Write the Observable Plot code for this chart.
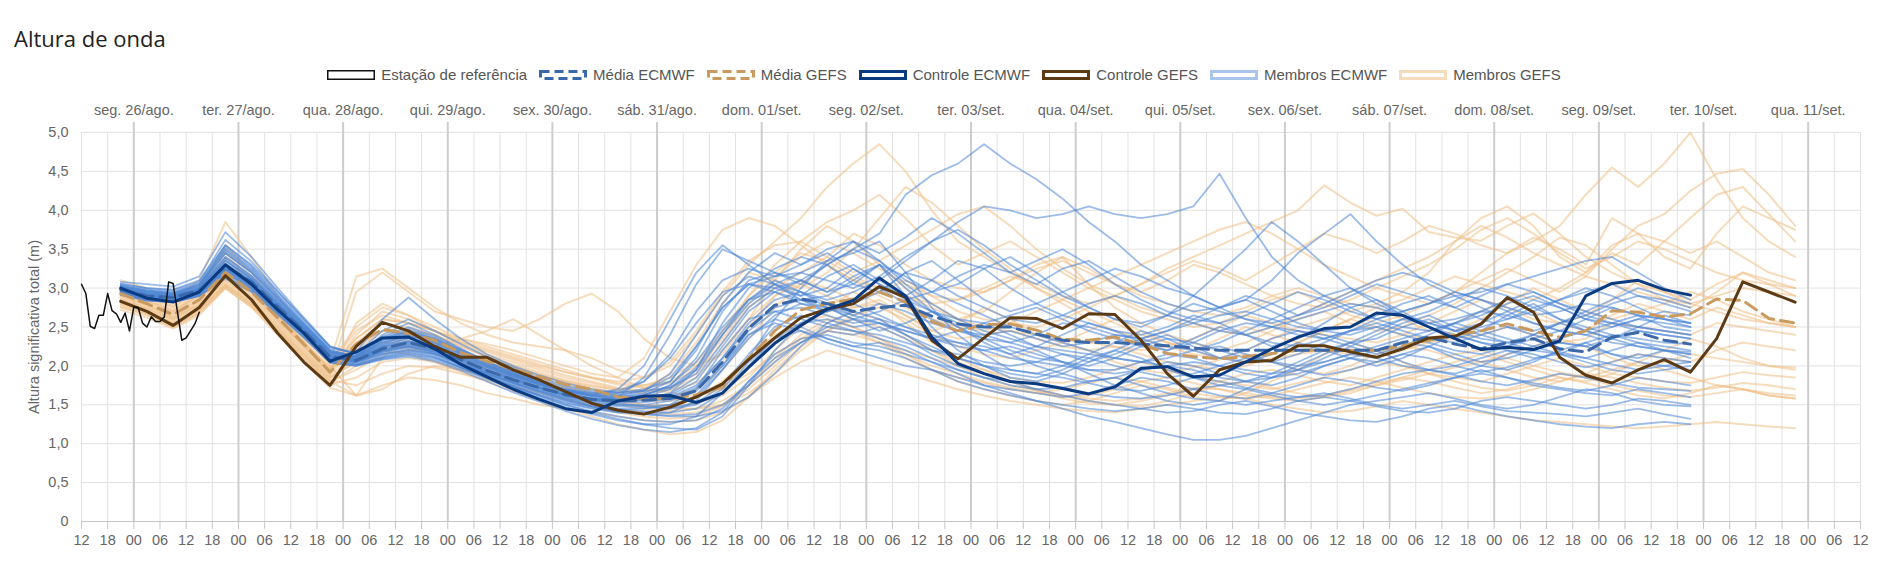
<!DOCTYPE html>
<html><head><meta charset="utf-8">
<script src="https://cdn.jsdelivr.net/npm/d3@7"></script>
<script src="https://cdn.jsdelivr.net/npm/@observablehq/plot@0.6"></script>
<style>
body{margin:0;background:#fff;font-family:"Liberation Sans",Arial,sans-serif;}
#wrap{position:relative;width:1888px;height:573px;overflow:hidden;background:#fff}
#title{position:absolute;left:14px;top:23px;font-family:"Open Sans",sans-serif;font-size:22px;color:#222;line-height:30px}
#legend{position:absolute;left:0;width:1888px;top:65px;height:20px;display:flex;justify-content:center;align-items:center;font-size:15px;color:#555;line-height:20px}
.item{display:flex;align-items:center;margin:0 6px}
.item svg{margin-right:6px}
#chart{position:absolute;left:0;top:90px}
</style></head>
<body>
<div id="wrap">
  <div id="title">Altura de onda</div>
  <div id="legend"></div>
  <div id="chart"></div>
</div>
<script>
// ---------- Dados ----------
const rotulosDias = ["seg. 26/ago.","ter. 27/ago.","qua. 28/ago.","qui. 29/ago.","sex. 30/ago.","sáb. 31/ago.","dom. 01/set.","seg. 02/set.","ter. 03/set.","qua. 04/set.","qui. 05/set.","sex. 06/set.","sáb. 07/set.","dom. 08/set.","seg. 09/set.","ter. 10/set.","qua. 11/set."];

// Estação de referência: horas desde 25/ago 12h
const horasEstacao = [0,1,2,3,4,5,6,7,8,9,10,11,12,13,14,15,16,17,18,19,20,21,23,24,26,27];
const estacao = [3.05,2.93,2.51,2.48,2.65,2.65,2.93,2.71,2.67,2.56,2.68,2.45,2.76,2.75,2.55,2.50,2.63,2.57,2.57,2.63,3.08,3.06,2.33,2.36,2.54,2.69];

// Modelos: passos de 6 h a partir de 25/ago 21h
const mediaECMWF = [2.98,2.90,2.88,2.97,3.28,3.08,2.76,2.45,2.12,2.07,2.22,2.30,2.22,2.08,1.94,1.82,1.72,1.63,1.57,1.55,1.56,1.58,1.68,2.05,2.48,2.78,2.86,2.80,2.70,2.75,2.78,2.64,2.54,2.50,2.50,2.41,2.33,2.30,2.30,2.28,2.26,2.23,2.20,2.20,2.20,2.20,2.20,2.20,2.20,2.30,2.37,2.28,2.22,2.30,2.35,2.22,2.18,2.37,2.43,2.33,2.28];
const mediaGEFS = [2.93,2.80,2.66,2.85,3.20,2.95,2.62,2.28,1.92,2.28,2.47,2.42,2.33,2.17,2.06,1.96,1.86,1.76,1.70,1.60,1.58,1.58,1.63,1.73,2.10,2.45,2.72,2.80,2.86,2.95,2.82,2.57,2.45,2.53,2.54,2.46,2.34,2.33,2.37,2.28,2.16,2.12,2.09,2.12,2.16,2.20,2.20,2.20,2.20,2.26,2.33,2.40,2.45,2.54,2.45,2.37,2.45,2.71,2.69,2.63,2.67,2.86,2.84,2.61,2.55];
const controleECMWF = [3.00,2.87,2.82,2.95,3.30,3.05,2.72,2.42,2.06,2.18,2.36,2.37,2.22,2.02,1.86,1.70,1.57,1.45,1.40,1.55,1.61,1.62,1.53,1.65,1.98,2.29,2.52,2.73,2.84,3.13,2.90,2.37,2.03,1.90,1.80,1.77,1.71,1.64,1.73,1.97,1.99,1.86,1.88,2.05,2.22,2.37,2.48,2.50,2.68,2.65,2.50,2.35,2.21,2.24,2.21,2.32,2.90,3.06,3.10,2.98,2.91];
const controleGEFS = [2.83,2.70,2.52,2.75,3.16,2.85,2.42,2.05,1.75,2.25,2.56,2.45,2.25,2.11,2.11,1.95,1.82,1.67,1.52,1.43,1.38,1.47,1.60,1.77,2.08,2.36,2.62,2.73,2.80,3.02,2.88,2.33,2.09,2.36,2.62,2.61,2.48,2.67,2.66,2.33,1.90,1.61,1.95,2.05,2.07,2.26,2.26,2.18,2.11,2.22,2.36,2.38,2.54,2.88,2.69,2.11,1.88,1.78,1.95,2.08,1.92,2.35,3.08,2.95,2.82];

const membrosECMWF = [
[3.05,3.00,2.98,3.10,3.55,3.30,2.95,2.60,2.25,2.15,2.35,2.45,2.35,2.20,2.05,1.92,1.80,1.70,1.62,1.58,1.62,1.75,2.10,2.70,3.10,3.20,3.05,3.30,3.50,3.70,4.20,4.45,4.60,4.85,4.60,4.40,4.15,3.85,3.60,3.30,3.10,2.90,2.75,2.60,2.50,2.45,2.40,2.30,2.35,2.50,2.60,2.45,2.35,2.30,2.20,2.15,2.10,2.20,2.30,2.25,2.20],
[2.95,2.88,2.86,2.98,3.35,3.12,2.80,2.48,2.15,2.10,2.28,2.40,2.30,2.15,2.00,1.88,1.78,1.70,1.65,1.68,1.80,2.10,2.55,2.95,3.05,3.00,2.90,3.15,3.30,3.10,3.35,3.60,3.85,4.05,4.00,3.90,3.95,4.05,3.95,3.90,3.95,4.05,4.47,3.90,3.40,3.10,2.90,2.75,2.60,2.70,2.80,2.95,2.85,2.70,2.55,2.45,2.60,2.75,2.65,2.50,2.45],
[3.00,2.92,2.90,3.00,3.40,3.15,2.82,2.50,2.18,2.12,2.40,2.55,2.40,2.22,2.05,1.90,1.78,1.68,1.60,1.56,1.58,1.65,1.95,2.55,3.00,3.25,3.40,3.30,3.05,2.95,3.20,3.35,3.10,2.85,2.70,2.80,2.95,3.10,3.25,3.15,3.00,2.90,2.75,2.85,3.10,3.45,3.70,3.95,3.60,3.30,3.05,2.90,2.75,2.60,2.70,2.85,3.00,2.90,2.75,2.60,2.55],
[2.92,2.85,2.82,2.90,3.15,2.98,2.68,2.38,2.05,2.00,2.10,2.15,2.10,1.98,1.85,1.72,1.60,1.50,1.42,1.35,1.30,1.28,1.30,1.45,1.80,2.10,2.30,2.45,2.40,2.50,2.35,2.15,2.00,1.90,1.80,1.70,1.62,1.55,1.50,1.45,1.40,1.42,1.50,1.55,1.48,1.40,1.35,1.30,1.28,1.35,1.45,1.50,1.42,1.35,1.30,1.25,1.22,1.20,1.25,1.28,1.25],
[3.02,2.95,2.92,3.02,3.45,3.20,2.85,2.52,2.18,2.10,2.30,2.38,2.28,2.12,1.98,1.85,1.72,1.62,1.55,1.60,1.85,2.40,3.05,3.50,3.35,3.20,3.10,2.95,3.05,3.30,3.00,2.70,2.50,2.35,2.20,2.10,2.05,2.00,2.10,2.25,2.35,2.30,2.20,2.10,2.05,2.15,2.30,2.45,2.50,2.40,2.30,2.20,2.15,2.25,2.40,2.55,2.45,2.35,2.25,2.20,2.15],
[2.96,2.88,2.86,2.95,3.25,3.05,2.74,2.42,2.10,2.05,2.18,2.25,2.18,2.02,1.88,1.74,1.62,1.50,1.40,1.32,1.25,1.20,1.18,1.35,1.75,2.20,2.55,2.70,2.80,2.65,2.50,2.40,2.30,2.25,2.15,2.00,1.90,1.80,1.85,1.95,2.05,2.00,1.90,1.80,1.75,1.85,2.00,2.10,2.05,2.15,2.25,2.10,2.00,1.95,2.05,2.20,2.30,2.15,2.05,2.00,1.95],
[3.08,3.05,3.02,3.15,3.72,3.40,3.00,2.62,2.25,2.15,2.45,2.60,2.45,2.28,2.12,1.98,1.85,1.75,1.68,1.65,1.70,1.80,2.20,2.80,3.20,3.45,3.30,3.50,3.60,3.35,3.10,2.95,2.80,2.65,2.50,2.40,2.30,2.20,2.10,2.05,2.00,1.95,1.85,1.80,1.85,1.95,2.10,2.25,2.40,2.55,2.65,2.50,2.40,2.30,2.40,2.55,2.70,2.60,2.50,2.45,2.40],
[2.97,2.90,2.87,2.96,3.30,3.08,2.77,2.46,2.13,2.08,2.25,2.32,2.24,2.10,1.95,1.83,1.72,1.62,1.55,1.50,1.48,1.50,1.60,1.95,2.35,2.65,2.80,2.75,2.60,2.70,2.85,2.70,2.55,2.40,2.30,2.20,2.05,1.90,1.75,1.65,1.55,1.50,1.55,1.70,1.85,2.00,2.15,2.30,2.45,2.60,2.70,2.85,3.00,2.90,2.75,2.60,2.50,2.40,2.35,2.30,2.28],
[3.00,2.93,2.90,2.99,3.35,3.12,2.80,2.48,2.15,2.08,2.26,2.35,2.26,2.12,1.98,1.86,1.76,1.68,1.62,1.60,1.65,1.80,2.25,2.75,3.05,2.95,2.85,2.90,3.10,3.30,3.15,2.95,3.05,3.25,3.40,3.20,2.95,2.75,2.60,2.50,2.65,2.90,3.20,3.50,3.85,3.60,3.30,3.00,2.80,2.65,2.55,2.45,2.55,2.70,2.85,2.75,2.60,2.50,2.60,2.70,2.65],
[2.94,2.86,2.84,2.93,3.22,3.02,2.72,2.42,2.10,2.05,2.15,2.20,2.15,2.02,1.90,1.78,1.68,1.58,1.50,1.45,1.42,1.40,1.45,1.65,2.00,2.35,2.55,2.60,2.50,2.55,2.40,2.25,2.10,2.00,1.95,1.90,1.85,1.78,1.70,1.68,1.75,1.85,1.80,1.72,1.65,1.60,1.62,1.70,1.80,1.90,1.95,1.88,1.80,1.75,1.82,1.90,1.85,1.78,1.72,1.70,1.68],
[2.99,2.92,2.89,2.98,3.32,3.10,2.78,2.47,2.14,2.09,2.24,2.32,2.24,2.10,1.96,1.84,1.74,1.65,1.58,1.56,1.58,1.62,1.80,2.25,2.70,2.95,3.10,3.30,3.50,3.35,3.05,2.80,2.60,2.45,2.35,2.25,2.20,2.15,2.10,2.05,2.10,2.20,2.25,2.15,2.05,2.00,2.05,2.15,2.25,2.35,2.45,2.55,2.65,2.80,2.90,2.75,2.60,2.55,2.65,2.60,2.50],
[2.93,2.86,2.83,2.92,3.20,3.00,2.70,2.40,2.08,2.02,2.12,2.18,2.12,1.98,1.85,1.73,1.62,1.52,1.45,1.40,1.38,1.40,1.55,1.95,2.40,2.60,2.50,2.35,2.25,2.30,2.20,2.05,1.90,1.75,1.65,1.55,1.45,1.35,1.28,1.20,1.12,1.05,1.05,1.10,1.20,1.30,1.40,1.50,1.55,1.60,1.65,1.58,1.50,1.45,1.50,1.60,1.70,1.65,1.55,1.50,1.48],
[3.03,2.96,2.93,3.04,3.50,3.24,2.88,2.54,2.20,2.12,2.32,2.42,2.32,2.16,2.02,1.88,1.76,1.66,1.58,1.52,1.48,1.45,1.50,1.70,2.10,2.60,3.00,3.35,3.60,3.45,3.65,3.90,3.70,3.45,3.20,3.35,3.50,3.30,3.05,2.85,2.70,2.60,2.55,2.65,2.80,2.95,2.85,2.70,2.60,2.50,2.45,2.55,2.70,2.85,2.95,2.80,2.65,2.55,2.50,2.45,2.40],
[2.97,2.89,2.87,2.97,3.28,3.07,2.76,2.45,2.12,2.06,2.20,2.28,2.20,2.06,1.92,1.80,1.70,1.61,1.55,1.54,1.56,1.60,1.75,2.10,2.50,2.75,2.85,2.75,2.65,2.80,2.70,2.55,2.45,2.40,2.45,2.35,2.25,2.30,2.40,2.35,2.25,2.20,2.30,2.45,2.60,2.75,2.90,3.00,2.85,2.65,2.50,2.40,2.30,2.25,2.35,2.45,2.40,2.30,2.25,2.20,2.18],
[2.91,2.84,2.82,2.90,3.12,2.95,2.66,2.36,2.04,2.00,2.08,2.12,2.06,1.94,1.80,1.66,1.54,1.42,1.32,1.24,1.18,1.15,1.20,1.40,1.80,2.15,2.35,2.40,2.30,2.25,2.15,2.05,1.95,1.85,1.80,1.78,1.72,1.65,1.60,1.58,1.62,1.70,1.75,1.70,1.62,1.55,1.50,1.55,1.62,1.70,1.78,1.85,1.90,1.85,1.78,1.72,1.68,1.75,1.85,1.80,1.75],
[3.04,2.98,2.95,3.06,3.55,3.28,2.92,2.57,2.22,2.18,2.60,2.88,2.60,2.35,2.15,2.00,1.88,1.78,1.70,1.66,1.68,1.72,1.90,2.40,2.85,3.05,2.95,2.85,2.95,3.10,2.90,2.70,2.60,2.55,2.65,2.75,2.60,2.45,2.35,2.25,2.20,2.30,2.45,2.55,2.50,2.40,2.35,2.45,2.60,2.70,2.80,2.90,2.95,3.05,3.15,3.25,3.35,3.40,3.20,3.00,2.85],
[2.95,2.88,2.85,2.94,3.24,3.04,2.73,2.43,2.11,2.06,2.18,2.24,2.16,2.03,1.90,1.78,1.67,1.57,1.48,1.42,1.38,1.36,1.38,1.50,1.75,2.05,2.30,2.50,2.60,2.55,2.45,2.35,2.30,2.20,2.10,2.05,2.00,1.95,1.95,2.05,2.15,2.10,2.00,1.95,1.90,1.95,2.05,2.15,2.10,2.00,1.95,2.00,2.10,2.20,2.15,2.05,1.98,2.05,2.15,2.10,2.05],
[3.06,3.00,2.97,3.08,3.62,3.34,2.96,2.60,2.24,2.16,2.38,2.50,2.38,2.22,2.06,1.93,1.82,1.73,1.66,1.62,1.68,1.90,2.40,2.90,3.15,3.05,2.90,3.00,3.25,3.05,2.85,2.95,3.15,3.30,3.20,3.05,3.25,3.35,3.15,2.95,2.80,2.70,2.75,2.85,2.70,2.55,2.45,2.50,2.65,2.80,2.90,2.75,2.60,2.50,2.45,2.55,2.65,2.80,2.90,2.85,2.75],
[2.94,2.87,2.84,2.93,3.20,3.01,2.71,2.41,2.09,2.04,2.14,2.20,2.14,2.00,1.87,1.75,1.64,1.55,1.48,1.44,1.45,1.50,1.70,2.20,2.60,2.70,2.60,2.50,2.45,2.35,2.25,2.10,1.95,1.85,1.75,1.70,1.72,1.80,1.85,1.75,1.65,1.58,1.55,1.50,1.55,1.60,1.65,1.58,1.50,1.45,1.50,1.55,1.48,1.42,1.40,1.38,1.35,1.40,1.45,1.38,1.32],
[2.99,2.91,2.89,2.98,3.30,3.09,2.77,2.46,2.13,2.08,2.22,2.30,2.22,2.08,1.94,1.82,1.72,1.63,1.57,1.55,1.57,1.64,1.85,2.30,2.75,3.00,3.10,2.95,3.15,3.30,2.90,2.50,2.20,2.00,1.85,1.80,1.90,2.05,2.20,2.35,2.45,2.55,2.65,2.70,2.60,2.50,2.45,2.40,2.50,2.60,2.55,2.45,2.50,2.60,2.75,2.85,2.95,3.05,2.90,2.80,2.70],
[2.96,2.89,2.86,2.95,3.26,3.06,2.75,2.44,2.11,2.07,2.20,2.26,2.19,2.05,1.91,1.79,1.69,1.60,1.53,1.50,1.50,1.55,1.68,2.00,2.45,2.70,2.75,2.65,2.55,2.60,2.50,2.35,2.25,2.20,2.25,2.15,2.05,1.95,1.90,1.95,2.00,2.05,2.00,1.90,1.85,1.90,2.00,2.10,2.20,2.30,2.25,2.15,2.05,2.10,2.20,2.30,2.25,2.15,2.10,2.20,2.15],
[3.01,2.94,2.91,3.01,3.40,3.16,2.83,2.50,2.17,2.11,2.30,2.40,2.30,2.15,2.00,1.87,1.76,1.67,1.62,1.70,2.00,2.60,3.20,3.55,3.30,3.05,2.85,2.70,2.80,2.95,3.20,3.10,2.90,2.75,2.60,2.55,2.65,2.80,2.90,2.80,2.65,2.55,2.45,2.40,2.50,2.60,2.70,2.80,2.75,2.65,2.55,2.60,2.70,2.65,2.55,2.45,2.40,2.50,2.60,2.55,2.50],
[2.98,2.91,2.88,2.97,3.29,3.08,2.76,2.45,2.12,2.07,2.24,2.31,2.23,2.09,1.95,1.83,1.73,1.64,1.58,1.57,1.62,1.75,2.05,2.50,2.85,3.10,2.95,2.75,2.60,2.45,2.55,2.70,2.50,2.30,2.15,2.25,2.40,2.55,2.45,2.30,2.20,2.35,2.50,2.40,2.25,2.35,2.55,2.75,2.85,2.70,2.50,2.35,2.45,2.65,2.80,2.60,2.45,2.35,2.50,2.65,2.55],
[2.95,2.87,2.85,2.94,3.23,3.03,2.73,2.43,2.11,2.05,2.16,2.22,2.16,2.03,1.89,1.77,1.66,1.56,1.48,1.42,1.38,1.35,1.35,1.42,1.60,1.90,2.25,2.55,2.70,2.60,2.40,2.20,2.10,2.00,1.90,1.85,1.95,2.10,2.20,2.10,1.95,1.85,1.75,1.80,1.90,2.05,2.20,2.30,2.20,2.05,1.95,1.90,2.00,2.15,2.25,2.15,2.05,1.95,1.90,1.95,2.00],
[3.01,2.95,2.92,3.03,3.45,3.20,2.86,2.52,2.18,2.12,2.34,2.45,2.34,2.18,2.03,1.90,1.79,1.70,1.64,1.65,1.80,2.15,2.70,3.10,3.25,3.15,3.30,3.45,3.25,3.05,2.90,3.10,3.35,3.25,3.00,2.80,2.65,2.55,2.45,2.40,2.50,2.65,2.55,2.40,2.30,2.25,2.35,2.45,2.55,2.45,2.35,2.30,2.40,2.50,2.40,2.30,2.25,2.35,2.45,2.40,2.35],
[2.93,2.85,2.83,2.91,3.18,2.99,2.69,2.39,2.07,2.02,2.11,2.17,2.11,1.98,1.85,1.73,1.62,1.53,1.46,1.41,1.40,1.45,1.62,2.00,2.40,2.55,2.45,2.30,2.20,2.10,2.00,1.95,1.85,1.75,1.70,1.65,1.60,1.65,1.75,1.85,1.80,1.70,1.62,1.58,1.65,1.75,1.85,1.80,1.72,1.68,1.75,1.85,1.95,1.85,1.75,1.70,1.65,1.62,1.70,1.65,1.60],
[3.03,2.97,2.94,3.05,3.52,3.26,2.90,2.55,2.20,2.13,2.36,2.48,2.36,2.20,2.05,1.91,1.79,1.69,1.61,1.57,1.60,1.70,1.95,2.40,2.80,3.05,3.20,3.10,3.00,3.15,3.40,3.60,3.75,3.55,3.30,3.10,2.90,2.75,2.60,2.55,2.65,2.80,2.70,2.60,2.55,2.65,2.80,2.95,3.10,3.20,3.10,2.95,2.85,2.75,2.65,2.70,2.80,2.75,2.65,2.60,2.55],
[2.97,2.90,2.87,2.96,3.27,3.06,2.75,2.45,2.12,2.07,2.21,2.28,2.21,2.07,1.93,1.81,1.71,1.62,1.56,1.53,1.53,1.58,1.72,2.10,2.55,2.85,2.95,2.80,2.65,2.55,2.45,2.35,2.45,2.55,2.40,2.25,2.15,2.05,2.15,2.30,2.40,2.25,2.10,2.05,2.15,2.30,2.20,2.10,2.00,2.10,2.25,2.40,2.30,2.20,2.10,2.15,2.30,2.40,2.30,2.20,2.10],
[3.00,2.93,2.90,3.00,3.37,3.13,2.81,2.49,2.16,2.10,2.27,2.36,2.27,2.13,1.99,1.87,1.77,1.68,1.62,1.60,1.63,1.72,1.98,2.45,2.85,2.95,2.80,2.70,2.85,3.00,2.80,2.60,2.45,2.35,2.30,2.40,2.55,2.50,2.40,2.35,2.45,2.60,2.75,2.90,2.80,2.65,2.75,2.90,3.05,2.95,2.85,2.75,2.90,3.05,2.95,2.80,2.70,2.85,3.00,2.90,2.80],
[2.92,2.84,2.82,2.90,3.14,2.96,2.67,2.37,2.05,2.01,2.09,2.14,2.08,1.96,1.83,1.70,1.58,1.47,1.38,1.30,1.25,1.25,1.35,1.65,2.05,2.35,2.45,2.35,2.25,2.20,2.10,1.95,1.80,1.70,1.62,1.55,1.50,1.45,1.42,1.45,1.50,1.45,1.40,1.38,1.45,1.55,1.60,1.55,1.48,1.42,1.40,1.45,1.55,1.60,1.55,1.50,1.45,1.50,1.58,1.55,1.50],
[3.02,2.96,2.93,3.04,3.48,3.22,2.87,2.53,2.19,2.12,2.33,2.43,2.33,2.17,2.02,1.89,1.78,1.69,1.63,1.62,1.68,1.85,2.25,2.75,3.05,3.15,3.20,3.35,3.45,3.60,3.20,2.75,2.40,2.15,1.95,1.90,2.00,2.15,2.30,2.45,2.35,2.20,2.10,2.20,2.35,2.45,2.35,2.25,2.15,2.25,2.40,2.55,2.45,2.35,2.25,2.35,2.45,2.55,2.45,2.40,2.35],
[2.95,2.88,2.85,2.94,3.24,3.04,2.74,2.44,2.11,2.06,2.19,2.25,2.18,2.04,1.90,1.78,1.68,1.59,1.52,1.48,1.46,1.46,1.52,1.75,2.15,2.50,2.65,2.55,2.45,2.40,2.30,2.20,2.15,2.05,2.00,2.05,2.15,2.10,2.00,1.92,1.85,1.90,2.00,2.10,2.05,1.95,1.88,1.95,2.05,2.15,2.10,2.00,1.92,1.98,2.08,2.18,2.10,2.02,1.95,2.00,2.05]
];

const membrosGEFS = [
[2.98,2.88,2.75,2.95,3.45,3.10,2.72,2.35,2.05,3.15,3.25,3.00,2.75,2.55,2.40,2.30,2.25,2.20,2.10,1.95,1.85,2.00,2.40,2.90,3.30,3.60,3.90,4.30,4.60,4.85,4.50,4.00,3.60,3.40,3.20,3.00,2.80,2.60,2.45,2.35,2.25,2.15,2.10,2.20,2.35,2.50,2.60,2.70,2.80,2.95,3.20,3.60,3.90,4.05,3.80,3.40,3.20,3.55,3.70,3.60,3.45,3.60,3.40,3.20,3.10],
[2.90,2.78,2.62,2.82,3.25,2.95,2.60,2.25,1.90,2.95,3.20,2.95,2.70,2.60,2.50,2.45,2.60,2.80,2.93,2.70,2.35,2.10,2.00,2.15,2.60,3.10,3.50,3.80,3.60,3.30,3.00,2.80,2.60,2.70,2.95,3.20,3.40,3.05,2.75,2.55,2.40,2.30,2.20,2.30,2.45,2.60,2.70,2.55,2.45,2.50,2.65,2.80,3.00,3.20,3.40,3.65,3.55,3.30,3.05,2.85,2.75,2.95,3.20,3.05,2.90],
[3.10,3.00,2.85,3.10,3.85,3.40,2.90,2.45,2.00,1.62,2.10,2.45,2.40,2.25,2.12,2.00,1.90,1.80,1.72,1.65,1.70,1.90,2.30,2.80,3.20,3.10,3.00,3.20,3.50,3.90,4.30,4.10,3.80,3.50,3.25,3.00,2.85,2.70,2.55,2.40,2.30,2.20,2.10,2.05,2.15,2.30,2.45,2.60,2.50,2.40,2.35,2.45,2.60,2.80,3.00,2.85,2.70,2.60,2.70,2.80,2.95,2.85,2.70,2.60,2.50],
[2.72,2.62,2.48,2.65,3.00,2.75,2.40,2.05,1.72,1.62,1.75,1.85,1.82,1.75,1.65,1.58,1.50,1.45,1.40,1.35,1.30,1.28,1.30,1.40,1.60,1.85,2.05,2.20,2.10,2.00,1.90,1.80,1.70,1.62,1.55,1.50,1.45,1.42,1.40,1.45,1.50,1.55,1.60,1.58,1.50,1.45,1.40,1.42,1.48,1.55,1.50,1.45,1.40,1.35,1.30,1.28,1.25,1.22,1.20,1.22,1.25,1.28,1.25,1.22,1.20],
[2.95,2.84,2.70,2.90,3.30,3.00,2.65,2.30,1.95,2.30,2.55,2.50,2.40,2.25,2.12,2.02,1.92,1.82,1.75,1.68,1.65,1.70,1.85,2.20,2.60,2.90,3.10,3.00,2.85,2.95,3.10,2.90,2.70,2.60,2.55,2.50,2.60,2.75,2.90,3.05,3.20,3.35,3.25,3.10,3.30,3.50,3.70,3.60,3.45,3.60,3.80,3.70,3.55,3.45,3.60,3.80,4.20,4.55,4.30,4.60,5.00,4.40,3.90,3.60,3.40],
[2.88,2.76,2.62,2.80,3.15,2.90,2.58,2.25,1.92,2.20,2.45,2.42,2.35,2.20,2.08,1.98,1.88,1.78,1.70,1.62,1.58,1.60,1.70,1.95,2.35,2.75,3.05,3.30,3.10,2.90,2.75,2.60,2.50,2.45,2.55,2.70,2.85,3.00,3.15,3.30,3.45,3.60,3.75,3.85,3.70,3.50,3.30,3.15,3.00,2.90,2.80,2.95,3.10,3.25,3.10,2.95,3.15,3.50,3.80,3.95,4.25,4.47,4.53,4.20,3.80],
[2.80,2.70,2.55,2.72,3.05,2.80,2.48,2.15,1.80,1.62,1.70,1.90,2.00,1.95,1.88,1.80,1.72,1.65,1.58,1.52,1.48,1.50,1.60,1.80,2.10,2.40,2.55,2.65,2.50,2.35,2.20,2.10,2.00,1.95,1.85,1.80,1.78,1.85,1.95,2.05,1.95,1.85,1.80,1.75,1.70,1.78,1.85,1.95,2.05,2.00,1.90,1.85,1.80,1.90,2.00,2.10,2.00,1.90,1.85,1.80,1.78,1.85,1.92,1.88,1.85],
[2.92,2.82,2.68,2.88,3.28,2.98,2.64,2.30,1.96,2.40,2.70,2.60,2.45,2.35,2.28,2.20,2.10,2.00,1.90,1.85,2.10,2.70,3.30,3.75,3.90,3.80,3.55,3.30,3.10,3.00,2.90,2.75,2.60,2.50,2.45,2.40,2.35,2.30,2.25,2.20,2.25,2.35,2.50,2.65,2.55,2.45,2.40,2.35,2.30,2.40,2.55,2.70,2.85,2.75,2.60,2.55,2.65,2.85,3.10,2.95,2.80,2.70,2.60,2.55,2.50],
[2.75,2.65,2.50,2.68,3.02,2.78,2.45,2.10,1.78,2.00,2.20,2.15,2.05,1.92,1.80,1.68,1.55,1.45,1.35,1.25,1.18,1.12,1.15,1.30,1.60,1.95,2.25,2.45,2.60,2.50,2.35,2.20,2.05,1.90,1.80,1.70,1.62,1.55,1.50,1.48,1.55,1.65,1.75,1.80,1.72,1.65,1.60,1.65,1.75,1.85,1.95,2.05,2.15,2.05,1.95,1.85,1.80,1.90,2.05,2.20,2.35,2.25,2.10,2.00,1.95],
[3.02,2.92,2.78,3.00,3.55,3.20,2.80,2.40,2.05,2.50,2.75,2.65,2.50,2.35,2.25,2.15,2.05,1.95,1.85,1.78,1.75,1.80,2.00,2.40,2.90,3.30,3.60,3.85,4.00,4.20,3.90,3.55,3.30,3.45,3.60,3.40,3.20,3.00,2.85,2.70,2.60,2.50,2.55,2.70,2.85,2.95,2.80,2.65,2.55,2.65,2.80,2.95,3.20,3.45,3.65,3.50,3.30,3.90,3.70,3.40,3.25,3.70,4.05,3.90,3.75],
[2.86,2.74,2.60,2.78,3.12,2.88,2.56,2.22,1.88,2.15,2.35,2.32,2.25,2.12,2.02,1.92,1.82,1.73,1.66,1.58,1.55,1.55,1.60,1.72,2.00,2.30,2.55,2.70,2.75,2.80,2.65,2.45,2.35,2.40,2.45,2.35,2.25,2.20,2.25,2.15,2.05,2.00,1.95,2.00,2.10,2.15,2.20,2.15,2.10,2.20,2.30,2.35,2.40,2.50,2.40,2.30,2.35,2.55,2.50,2.45,2.40,2.55,2.50,2.45,2.40],
[2.78,2.68,2.52,2.70,3.02,2.78,2.46,2.12,1.80,1.95,2.15,2.20,2.25,2.35,2.45,2.60,2.40,2.20,2.00,1.85,1.72,1.65,1.62,1.70,1.90,2.15,2.35,2.45,2.40,2.30,2.15,2.00,1.90,1.80,1.72,1.65,1.60,1.62,1.70,1.80,1.85,1.78,1.70,1.65,1.60,1.58,1.62,1.70,1.78,1.85,1.80,1.72,1.65,1.70,1.80,1.90,1.85,1.75,1.68,1.62,1.60,1.65,1.70,1.62,1.58],
[2.92,2.80,2.66,2.86,3.22,2.96,2.62,2.28,1.94,2.25,2.45,2.40,2.30,2.18,2.08,1.98,1.88,1.80,1.74,1.70,1.75,1.85,2.05,2.45,2.90,3.20,3.45,3.35,3.15,3.00,2.90,2.80,2.85,3.00,3.15,3.05,2.90,2.80,2.90,3.05,3.25,3.40,3.55,3.70,3.85,4.00,4.32,4.10,3.93,4.02,3.72,3.65,3.61,3.80,3.96,3.70,3.40,3.20,3.05,2.95,2.85,3.05,3.20,3.10,3.00],
[2.84,2.72,2.58,2.76,3.08,2.84,2.52,2.18,1.85,2.05,2.25,2.22,2.15,2.05,1.95,1.85,1.75,1.65,1.58,1.50,1.45,1.42,1.45,1.55,1.75,2.05,2.35,2.55,2.70,2.60,2.40,2.20,2.00,1.85,1.75,1.68,1.62,1.58,1.55,1.58,1.65,1.72,1.70,1.62,1.58,1.55,1.60,1.68,1.75,1.82,1.90,1.98,2.05,1.95,1.85,1.80,1.90,2.05,2.15,2.10,2.05,2.20,2.30,2.25,2.20],
[2.96,2.86,2.72,2.92,3.38,3.05,2.68,2.32,1.98,2.35,2.60,2.55,2.45,2.30,2.18,2.08,1.98,1.88,1.80,1.72,1.68,1.72,1.90,2.30,2.75,3.00,3.20,3.40,3.70,3.55,3.30,3.10,3.00,2.95,3.10,3.25,3.35,3.20,3.05,2.95,3.10,3.30,3.20,3.05,2.90,2.80,2.75,2.85,3.00,3.15,3.30,3.50,3.75,3.90,3.70,3.45,3.25,3.40,3.60,3.50,3.35,3.20,3.10,3.05,3.00],
[2.82,2.70,2.56,2.74,3.05,2.82,2.50,2.16,1.84,2.10,2.30,2.28,2.20,2.08,1.98,1.88,1.78,1.70,1.62,1.55,1.50,1.48,1.52,1.62,1.85,2.20,2.50,2.75,2.95,2.80,2.55,2.30,2.10,1.95,1.80,1.68,1.58,1.52,1.50,1.55,1.62,1.70,1.80,1.90,1.95,1.88,1.80,1.75,1.85,1.95,2.05,2.15,2.20,2.10,2.00,1.92,1.85,1.95,2.05,1.95,1.85,1.75,1.70,1.65,1.62],
[2.90,2.78,2.64,2.84,3.18,2.92,2.60,2.26,1.90,2.55,2.80,2.65,2.45,2.28,2.15,2.05,1.95,1.85,1.78,1.70,1.66,1.68,1.78,2.05,2.50,2.90,3.05,2.90,2.75,2.85,2.65,2.45,2.55,2.75,2.60,2.40,2.30,2.45,2.60,2.45,2.30,2.20,2.35,2.50,2.40,2.30,2.45,2.60,2.75,2.60,2.45,2.55,2.70,2.85,2.70,2.55,2.45,2.65,2.80,2.70,2.60,2.75,2.65,2.55,2.50],
[2.76,2.66,2.50,2.68,3.00,2.76,2.44,2.10,1.76,1.85,2.05,2.10,2.05,1.95,1.85,1.75,1.65,1.56,1.48,1.40,1.35,1.32,1.35,1.48,1.75,2.10,2.40,2.60,2.50,2.35,2.15,1.95,1.80,1.70,1.62,1.55,1.50,1.55,1.65,1.75,1.70,1.60,1.55,1.65,1.80,1.95,2.15,2.30,2.20,2.05,1.90,1.80,1.72,1.68,1.75,1.85,1.78,1.70,1.62,1.58,1.65,1.75,1.70,1.62,1.58],
[3.00,2.90,2.76,2.98,3.50,3.15,2.76,2.38,2.02,2.45,2.65,2.55,2.45,2.32,2.22,2.12,2.02,1.92,1.84,1.76,1.72,1.78,1.95,2.35,2.80,3.15,3.40,3.60,3.45,3.25,3.05,2.90,2.85,2.95,3.10,3.30,3.40,3.25,3.05,2.90,2.80,2.70,2.65,2.75,2.90,3.00,2.90,2.80,2.75,2.85,3.00,3.15,3.05,2.95,2.85,3.00,3.20,3.45,3.30,3.60,3.90,4.20,4.30,3.95,3.60],
[2.85,2.74,2.60,2.78,3.10,2.86,2.54,2.20,1.86,2.05,2.25,2.25,2.20,2.10,2.00,1.90,1.80,1.72,1.64,1.56,1.50,1.46,1.45,1.50,1.65,1.90,2.20,2.45,2.65,2.75,2.60,2.40,2.25,2.15,2.10,2.20,2.30,2.20,2.05,1.95,1.90,1.98,2.08,2.15,2.05,1.95,1.90,2.00,2.15,2.25,2.20,2.10,2.05,2.15,2.25,2.35,2.25,2.10,2.00,2.05,2.15,2.10,2.05,2.00,1.98],
[2.94,2.84,2.70,2.92,3.32,3.02,2.66,2.30,1.96,2.35,2.60,2.55,2.45,2.30,2.20,2.10,2.00,1.92,1.85,1.80,1.85,2.05,2.45,2.95,3.35,3.55,3.60,3.40,3.20,3.35,3.55,3.75,3.95,4.05,3.80,3.50,3.25,3.05,2.90,2.75,2.65,2.55,2.45,2.40,2.50,2.65,2.80,2.95,3.10,3.25,3.40,3.60,3.80,3.65,3.45,3.30,3.15,3.05,2.95,2.85,2.80,2.90,3.00,2.95,2.90],
[2.80,2.68,2.54,2.72,3.04,2.80,2.48,2.14,1.82,1.75,1.90,2.00,1.98,1.90,1.82,1.74,1.66,1.58,1.50,1.44,1.40,1.38,1.40,1.50,1.70,2.00,2.30,2.50,2.45,2.30,2.10,1.95,1.85,1.78,1.70,1.65,1.70,1.78,1.85,1.80,1.72,1.65,1.60,1.58,1.62,1.70,1.78,1.85,1.80,1.72,1.65,1.60,1.58,1.62,1.70,1.80,1.90,1.85,1.78,1.72,1.68,1.72,1.78,1.75,1.70]
];

const legendaNomes = ["Estação de referência","Média ECMWF","Média GEFS","Controle ECMWF","Controle GEFS","Membros ECMWF","Membros GEFS"];
const legendaCores = ["#111111","#3b68a8","#c99a60","#0a3a80","#5c3a14","#a9c4eb","#f5dcbc"];
const legendaTracos = [null,"9,5","9,5",null,null,null,null];
const legendaLarguras = [1.5,3,3,3,3,3,3];

// ---------- Construção ----------
const H = 3600 * 1000;
const inicioEixo = new Date(Date.UTC(2024, 7, 25, 12));
const fimEixo = new Date(Date.UTC(2024, 8, 11, 12));
const inicioModelo = Date.UTC(2024, 7, 25, 21);
const tModelo = i => new Date(inicioModelo + i * 6 * H);
const serie = vals => vals.map((v, i) => ({t: tModelo(i), v}));
const longo = (lista, nome) => lista.flatMap((vals, k) => vals.map((v, i) => ({t: tModelo(i), v, s: nome + k})));
const dadosEstacao = horasEstacao.map((h, i) => ({t: new Date(+inicioEixo + h * H), v: estacao[i]}));

const grade6h = d3.utcHour.every(6).range(inicioEixo, new Date(+fimEixo + 1));
const dias = d3.utcDay.range(new Date(Date.UTC(2024, 7, 26)), new Date(Date.UTC(2024, 8, 11, 1)));
const rotulo = new Map(dias.map((d, i) => [+d, rotulosDias[i]]));
const gradeY = d3.range(0, 5.01, 0.5);
const fmtY = d => d === 0 ? "0" : d3.format(".1f")(d).replace(".", ",");
const fmtHora = d3.utcFormat("%H");

// legenda
const leg = document.getElementById("legend");
legendaNomes.forEach((nome, i) => {
  const it = document.createElement("div");
  it.className = "item";
  const sw = legendaLarguras[i];
  it.innerHTML = `<svg width="48" height="10"><rect x="${sw/2}" y="${sw/2}" width="${48-sw}" height="${10-sw}" fill="#fff" stroke="${legendaCores[i]}" stroke-width="${sw}" ${legendaTracos[i] ? `stroke-dasharray="${legendaTracos[i]}"` : ""}/></svg><span>${nome}</span>`;
  leg.appendChild(it);
});

const chart = Plot.plot({
  width: 1888, height: 483,
  marginLeft: 81, marginRight: 28, marginTop: 42, marginBottom: 52,
  x: {type: "utc", domain: [inicioEixo, fimEixo]},
  y: {domain: [0, 5]},
  style: {fontFamily: '"Liberation Sans", Arial, sans-serif', fontSize: "14.5px", color: "#666", background: "#fff", overflow: "visible"},
  marks: [
    Plot.ruleY(gradeY, {stroke: "#e2e2e2"}),
    Plot.ruleX(grade6h, {stroke: "#e2e2e2"}),
    Plot.ruleX(dias, {stroke: "#cdcdcd", strokeWidth: 2, insetTop: -10}),
    Plot.ruleY([0], {stroke: "#c6c6c6"}),
    Plot.axisX({anchor: "bottom", ticks: grade6h, tickFormat: fmtHora, tickSize: 8, tickPadding: 5, stroke: "#c6c6c6", fill: "#666", label: null}),
    Plot.axisX({anchor: "top", ticks: dias, tickFormat: d => rotulo.get(+d), tickSize: 0, tickPadding: 18, fill: "#666", label: null}),
    Plot.axisY({ticks: gradeY, tickFormat: fmtY, tickSize: 0, tickPadding: 13, fill: "#666", label: "Altura significativa total (m)", labelArrow: "none", labelAnchor: "center", labelOffset: 53}),
    Plot.line(longo(membrosGEFS, "G"), {x: "t", y: "v", z: "s", stroke: "#eebf86", strokeOpacity: 0.55, strokeWidth: 2}),
    Plot.line(longo(membrosECMWF, "E"), {x: "t", y: "v", z: "s", stroke: "#4a85d6", strokeOpacity: 0.55, strokeWidth: 1.8}),
    Plot.line(serie(mediaGEFS), {x: "t", y: "v", stroke: "#c99a60", strokeWidth: 3, strokeDasharray: "13,7"}),
    Plot.line(serie(mediaECMWF), {x: "t", y: "v", stroke: "#3b68a8", strokeWidth: 3, strokeDasharray: "13,7"}),
    Plot.line(serie(controleGEFS), {x: "t", y: "v", stroke: "#5c3a14", strokeWidth: 3}),
    Plot.line(serie(controleECMWF), {x: "t", y: "v", stroke: "#0a3a80", strokeWidth: 3}),
    Plot.line(dadosEstacao, {x: "t", y: "v", stroke: "#111", strokeWidth: 1.5})
  ]
});
document.getElementById("chart").appendChild(chart);
</script>
</body></html>
